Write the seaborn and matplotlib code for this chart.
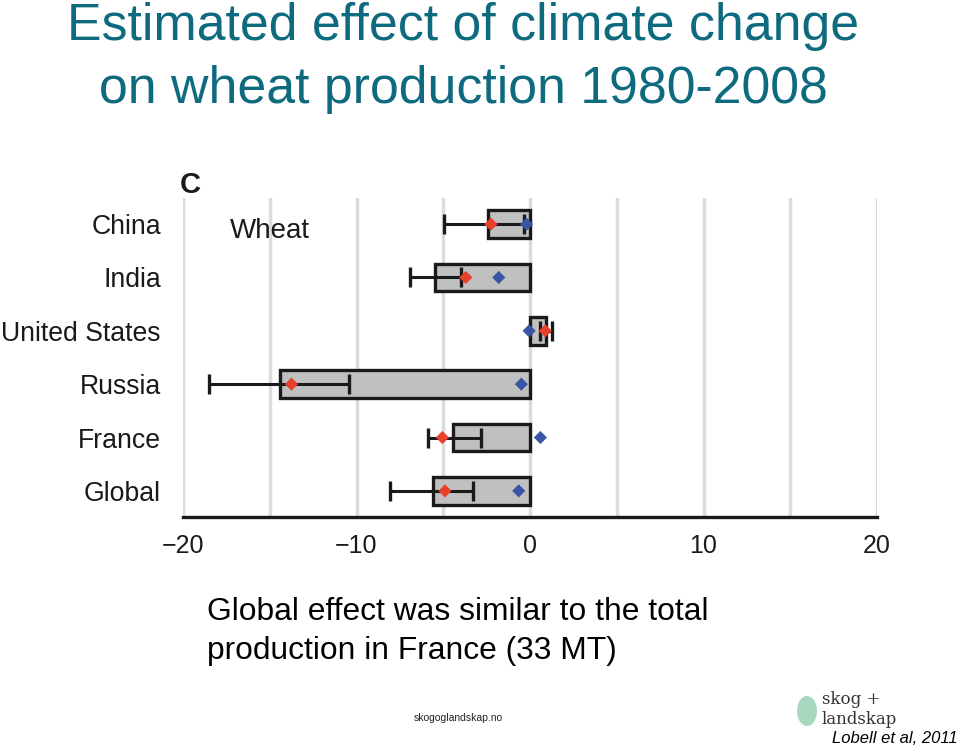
import numpy as np
import pandas as pd
import matplotlib
matplotlib.use("Agg")
import matplotlib.pyplot as plt
from matplotlib.patches import Ellipse
import seaborn as sns

countries = ["China", "India", "United States", "Russia", "France", "Global"]
effect = [-2.4, -5.5, 0.9, -14.4, -4.45, -5.6]
err_low = [-4.95, -6.9, 0.6, -18.5, -5.9, -8.05]
err_high = [-0.35, -4.0, 1.25, -10.45, -2.85, -3.3]
red_est = [-2.25, -3.7, 0.88, -13.75, -5.05, -4.9]
blue_est = [-0.2, -1.8, -0.05, -0.5, 0.6, -0.65]
xticks = [-20, -10, 0, 10, 20]
minor_ticks = [-15, -5, 5, 15]

sns.set_style("white")
plt.rcParams['font.family'] = ['Liberation Sans', 'DejaVu Sans']

fig = plt.figure(figsize=(9.6, 7.45), dpi=100)
ax = fig.add_axes([183/960, (745-517)/745, (877-183)/960, (517-198)/745])

df = pd.DataFrame({"country": countries, "effect": effect})
sns.barplot(data=df, x="effect", y="country", orient="h", color="#c0c0c0",
            edgecolor="#1a1a1a", linewidth=2.4, width=0.52, ax=ax, zorder=3,
            saturation=1)

pos = np.arange(len(countries))
eff = np.array(effect)
xerr = np.vstack([eff - np.array(err_low), np.array(err_high) - eff])
ax.errorbar(eff, pos, xerr=xerr, fmt="none", ecolor="#1a1a1a", elinewidth=2.2,
            capsize=7.5, capthick=2.4, zorder=4)

dpts = pd.DataFrame({"pos": pos, "red": red_est, "blue": blue_est})
sns.scatterplot(data=dpts, x="red", y="pos", marker="D", color="#e8402c", s=45,
                edgecolor="none", ax=ax, zorder=5)
sns.scatterplot(data=dpts, x="blue", y="pos", marker="D", color="#3b55a6", s=45,
                edgecolor="none", ax=ax, zorder=5)

ax.set_xlim(-20, 20)
ax.set_ylim(5.49, -0.49)
ax.set_xticks(xticks)
ax.set_xticklabels(["\u221220", "\u221210", "0", "10", "20"])
ax.set_xticks(minor_ticks, minor=True)
ax.set_yticks(pos)
ax.set_yticklabels(countries)
ax.grid(axis="x", which="both", color="#dcdcdc", linewidth=2.5, zorder=0)
ax.grid(axis="y", visible=False)
ax.set_axisbelow(True)
for s in ["top", "right", "left"]:
    ax.spines[s].set_visible(False)
ax.spines["bottom"].set_linewidth(2.4)
ax.spines["bottom"].set_color("#1a1a1a")
ax.tick_params(axis="x", which="major", direction="in", length=11, width=2.0,
               color="#1a1a1a", labelsize=18, pad=12, labelcolor="#1a1a1a")
ax.tick_params(axis="x", which="minor", length=0)
ax.tick_params(axis="y", length=0, labelsize=19.2, pad=16, labelcolor="#1a1a1a")
ax.set_xlabel("")
ax.set_ylabel("")

# panel annotations
fig.text(180/960, 1-185/745, "C", fontsize=21, fontweight="bold", color="#1a1a1a",
         ha="left", va="center")
fig.text(230/960, 1-231/745, "Wheat", fontsize=20, color="#1a1a1a",
         ha="left", va="center")

# slide title
fig.text(463/960, 1-40/745, "Estimated effect of climate change", fontsize=37.4,
         color="#0e6a7e", ha="center", va="baseline")
fig.text(463/960, 1-103/745, "on wheat production 1980-2008", fontsize=37.4,
         color="#0e6a7e", ha="center", va="baseline")

fig.text(207/960, 1-620/745, "Global effect was similar to the total", fontsize=22.9,
         color="black", ha="left", va="baseline")
fig.text(207/960, 1-659/745, "production in France (33 MT)", fontsize=22.9,
         color="black", ha="left", va="baseline")

fig.text(458/960, 1-718/745, "skogoglandskap.no", fontsize=7.5, color="#222222",
         ha="center", va="center")

# logo
fig.patches.append(Ellipse((807/960, 1-711/745), 20/960, 30/745,
                           transform=fig.transFigure, facecolor="#a8d8c0",
                           edgecolor="none", figure=fig))
fig.text(822/960, 1-700/745, "skog +", fontsize=12, family="DejaVu Serif",
         color="#333333", ha="left", va="center")
fig.text(822/960, 1-719/745, "landskap", fontsize=12, family="DejaVu Serif",
         color="#333333", ha="left", va="center")
fig.text(958/960, 1-743/745, "Lobell et al, 2011", fontsize=12, style="italic",
         color="black", ha="right", va="baseline")

fig.savefig("out.png", dpi=100)
